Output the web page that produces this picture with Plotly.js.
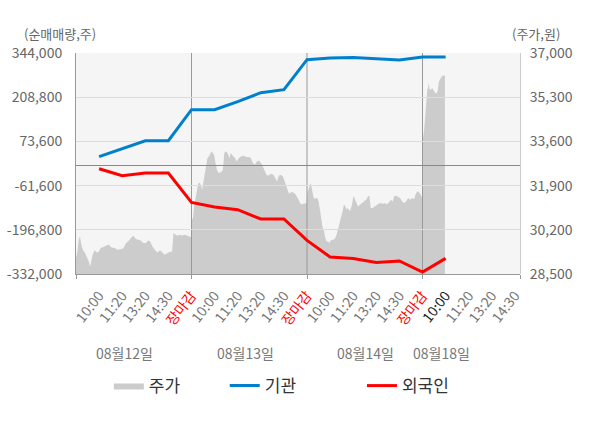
<!DOCTYPE html>
<html>
<head>
<meta charset="utf-8">
<script src="https://cdn.plot.ly/plotly-3.0.1.min.js"></script>
<style>
  html, body { margin: 0; padding: 0; background: #fff; }
  #chart { width: 600px; height: 428px; }
</style>
</head>
<body>
<div id="chart"></div>
<script>
// x axis is slot based: every trading day is 5 slots wide (open .. 장마감)
const dates = ["08월12일", "08월13일", "08월14일", "08월18일"];
const slotLabels = ["10:00", "11:20", "13:20", "14:30", "장마감"];

// cumulative net buying (shares), one value per slot, 08/12 10:00 .. 08/18 10:00
const flowX = [1, 2, 3, 4, 5, 6, 7, 8, 9, 10, 11, 12, 13, 14, 15, 16];
const instNet = [26800, 51300, 75700, 75700, 170600, 170600, 195000, 222600, 231700,
  323500, 328700, 330500, 325600, 322600, 331800, 331800];
const foreignNet = [-9900, -31300, -23100, -23100, -113000, -127100, -135300, -163800, -163800,
  -229200, -280000, -284300, -296500, -292200, -325900, -284300];

// intraday price (원)
const priceX = [
  0.00, 0.06, 0.12, 0.17, 0.23, 0.29, 0.38, 0.46, 0.55, 0.61, 0.66, 0.72, 0.81, 0.90, 0.98,
  1.07, 1.18, 1.30, 1.42, 1.53, 1.68, 1.79, 1.94, 2.05, 2.15, 2.30, 2.40, 2.49, 2.59, 2.69,
  2.80, 2.92, 3.02, 3.12, 3.21, 3.31, 3.41, 3.53, 3.64, 3.74, 3.84, 3.96, 4.07, 4.16, 4.22,
  4.31, 4.39, 4.48, 4.59, 4.71, 4.83, 4.91, 4.98,
  5.00, 5.06, 5.11, 5.17, 5.23, 5.29, 5.35, 5.40, 5.46, 5.52, 5.58, 5.64, 5.69, 5.75, 5.81,
  5.87, 5.92, 5.98, 6.04, 6.10, 6.18, 6.27, 6.36, 6.42, 6.47, 6.56, 6.65, 6.70, 6.79, 6.88,
  6.96, 7.05, 7.14, 7.25, 7.37, 7.48, 7.57, 7.66, 7.74, 7.83, 7.92, 8.00, 8.06, 8.15, 8.24,
  8.32, 8.44, 8.55, 8.64, 8.70, 8.78, 8.87, 8.96, 9.04, 9.13, 9.22, 9.31, 9.39, 9.48, 9.57,
  9.65, 9.74, 9.83, 9.91, 9.98,
  10.01, 10.07, 10.13, 10.16, 10.22, 10.27, 10.33, 10.39, 10.45, 10.50, 10.56, 10.62, 10.68,
  10.74, 10.79, 10.85, 10.91, 10.97, 11.02, 11.11, 11.20, 11.28, 11.37, 11.43, 11.49, 11.54,
  11.60, 11.66, 11.72, 11.77, 11.86, 11.95, 12.01, 12.09, 12.15, 12.21, 12.30, 12.38, 12.47,
  12.56, 12.64, 12.70, 12.76, 12.84, 12.93, 13.02, 13.10, 13.19, 13.28, 13.36, 13.45, 13.54,
  13.63, 13.71, 13.77, 13.86, 13.94, 14.03, 14.12, 14.20, 14.29, 14.38, 14.46, 14.55, 14.64,
  14.72, 14.81, 14.90, 14.95, 14.98,
  15.01, 15.04, 15.07, 15.10, 15.13, 15.16, 15.19, 15.21, 15.24, 15.27, 15.30, 15.36, 15.42,
  15.47, 15.53, 15.59, 15.65, 15.71, 15.76, 15.82, 15.88, 15.97
];
const price = [
  29120, 29370, 29820, 29950, 29630, 29430, 29330, 29180, 28990, 28790, 29050, 29240, 29410, 29330, 29360,
  29500, 29540, 29590, 29630, 29520, 29500, 29430, 29460, 29480, 29670, 29790, 29910, 29970, 29850, 29820,
  29790, 29690, 29690, 29790, 29750, 29560, 29430, 29330, 29410, 29330, 29240, 29310, 29360, 29360, 30080,
  30010, 29970, 30010, 29980, 30010, 29970, 29920, 29920,
  30720, 30590, 31100, 31420, 31740, 31970, 32020, 31930, 31740, 32060, 32380, 32640, 32960, 33020, 33150,
  33220, 33150, 33090, 32770, 32510, 32380, 32410, 32510, 33150, 33220, 33150, 32960, 33150, 33050, 32960,
  32830, 32960, 33020, 33050, 33000, 33000, 32960, 32770, 32700, 32830, 32870, 32790, 32700, 32510, 32320,
  32280, 32360, 32320, 32190, 32060, 32280, 32320, 32250, 32000, 31810, 31590, 31640, 31640, 31590, 31460,
  31290, 31170, 31200, 31230, 31230,
  31620, 31810, 31930, 32000, 31740, 31490, 31380, 31420, 31420, 31290, 30970, 30590, 30270,
  30140, 29880, 29750, 29750, 29690, 29790, 29820, 29850, 30010, 30330, 30460, 30650, 30910,
  31170, 31100, 30970, 31040, 30910, 31170, 31510, 31360, 31230, 31100, 31170, 31230, 31290,
  31360, 31490, 31510, 31040, 31040, 31100, 31170, 31200, 31230, 31190, 31230, 31170, 31250,
  31360, 31290, 31490, 31510, 31460, 31420, 31290, 31230, 31290, 31420, 31360, 31420, 31380,
  31620, 31680, 31590, 31490, 31420,
  33660, 33790, 34050, 34370, 34820, 35140, 35460, 35620, 35650, 35870, 35620, 35590, 35650,
  35560, 35490, 35430, 35520, 35910, 36000, 36080, 36130, 36130
];

const flowTicks = [-332000, -196800, -61600, 73600, 208800, 344000];
const priceTicks = [28500, 30200, 31900, 33600, 35300, 37000];

const xEnd = 19.22;
const fontFamily = "Noto Sans CJK KR, Noto Sans, sans-serif";
const fmt = v => v.toLocaleString("en-US");

// x tick labels: 장마감 in red, the latest slot darker
const tickVals = [], tickText = [];
const lastSlot = flowX[flowX.length - 1];
dates.forEach((d, di) => {
  slotLabels.forEach((s, si) => {
    const v = di * slotLabels.length + si + 1;
    if (v > xEnd) return;
    let color = "#777";
    if (s === "장마감") color = "#ff0000";
    else if (v === lastSlot) color = "#222";
    tickVals.push(v);
    tickText.push(`<span style="color:${color}">${s}</span>`);
  });
});
const dayEnds = dates.slice(0, -1).map((d, i) => (i + 1) * slotLabels.length);

const traces = [
  {
    x: priceX, y: price, xaxis: "x", yaxis: "y",
    type: "scatter", mode: "lines", name: "주가",
    fill: "tozeroy", fillcolor: "#cccccc",
    line: { width: 0, color: "#cccccc" },
    legend: "legend", hoverinfo: "skip"
  },
  {
    x: flowX, y: instNet, xaxis: "x2", yaxis: "y2",
    type: "scatter", mode: "lines", name: "기관",
    line: { color: "#0080cc", width: 3 },
    legend: "legend2"
  },
  {
    x: flowX, y: foreignNet, xaxis: "x2", yaxis: "y2",
    type: "scatter", mode: "lines", name: "외국인",
    line: { color: "#ff0000", width: 3 },
    legend: "legend3"
  }
];

const legendBase = {
  orientation: "h", y: -0.507, yanchor: "middle", xanchor: "left",
  font: { size: 17, color: "#333", family: fontFamily },
  bgcolor: "rgba(0,0,0,0)"
};

const layout = {
  width: 600, height: 428,
  margin: { l: 76, r: 80, t: 53, b: 154 },
  paper_bgcolor: "#ffffff",
  // transparent so the upper subplot does not hide the price area
  plot_bgcolor: "rgba(0,0,0,0)",
  font: { family: fontFamily, size: 14, color: "#666" },
  showlegend: true,
  legend: Object.assign({}, legendBase, { x: 0.074 }),
  legend2: Object.assign({}, legendBase, { x: 0.335 }),
  legend3: Object.assign({}, legendBase, { x: 0.644 }),
  // price subplot (drawn first, underneath)
  xaxis: {
    range: [0, xEnd], anchor: "y",
    tickvals: [0].concat(dayEnds, [xEnd]), ticks: "outside", ticklen: 4, tickcolor: "#999",
    showticklabels: false, showgrid: false, zeroline: false, showline: false
  },
  yaxis: {
    range: [priceTicks[0], priceTicks[priceTicks.length - 1]], anchor: "x", side: "right",
    tickvals: priceTicks, ticktext: priceTicks.map(fmt),
    ticks: "outside", ticklen: 6, tickcolor: "rgba(0,0,0,0)",
    showgrid: false, zeroline: false, showline: true, linecolor: "#cccccc",
    tickfont: { size: 14, color: "#666" }
  },
  // net buying subplot (on top, carries the grid)
  xaxis2: {
    range: [0, xEnd], anchor: "y2",
    tickvals: tickVals, ticktext: tickText, tickangle: -52,
    ticks: "outside", ticklen: 7, tickcolor: "rgba(0,0,0,0)",
    showgrid: false, zeroline: false, showline: true, linecolor: "#999",
    tickfont: { size: 14, color: "#777" }
  },
  yaxis2: {
    range: [flowTicks[0], flowTicks[flowTicks.length - 1]], anchor: "x2", side: "left",
    tickvals: flowTicks, ticktext: flowTicks.map(fmt),
    ticks: "outside", ticklen: 10, tickcolor: "rgba(0,0,0,0)",
    showgrid: true, gridcolor: "#dddddd", gridwidth: 1,
    zeroline: true, zerolinecolor: "#888", zerolinewidth: 1,
    showline: true, linecolor: "#999",
    tickfont: { size: 14, color: "#666" }
  },
  shapes: [
    // plot background, below every subplot
    { type: "rect", xref: "paper", yref: "paper", x0: 0, x1: 1, y0: 0, y1: 1,
      fillcolor: "#f5f5f5", line: { width: 0 }, layer: "below" }
  ].concat(dayEnds.map(v => ({
    type: "line", xref: "x2", yref: "y2",
    x0: v, x1: v, y0: flowTicks[0], y1: flowTicks[flowTicks.length - 1],
    line: { color: "#999", width: 1 }, layer: "below"
  }))),
  annotations: [
    { text: "(순매매량,주)", xref: "paper", yref: "paper", x: -0.1216, y: 1.09,
      xanchor: "left", yanchor: "middle", showarrow: false, font: { size: 13, color: "#666" } },
    { text: "(주가,원)", xref: "paper", yref: "paper", x: 0.977, y: 1.09,
      xanchor: "left", yanchor: "middle", showarrow: false, font: { size: 13, color: "#666" } }
  ].concat(dates.map((d, i) => ({
    text: d, xref: "x2", yref: "paper", x: [2.12, 7.33, 12.53, 15.82][i], y: -0.357,
    xanchor: "center", yanchor: "middle", showarrow: false, font: { size: 14, color: "#777" }
  })))
};

Plotly.newPlot("chart", traces, layout, { staticPlot: true, displayModeBar: false });
</script>
</body>
</html>
